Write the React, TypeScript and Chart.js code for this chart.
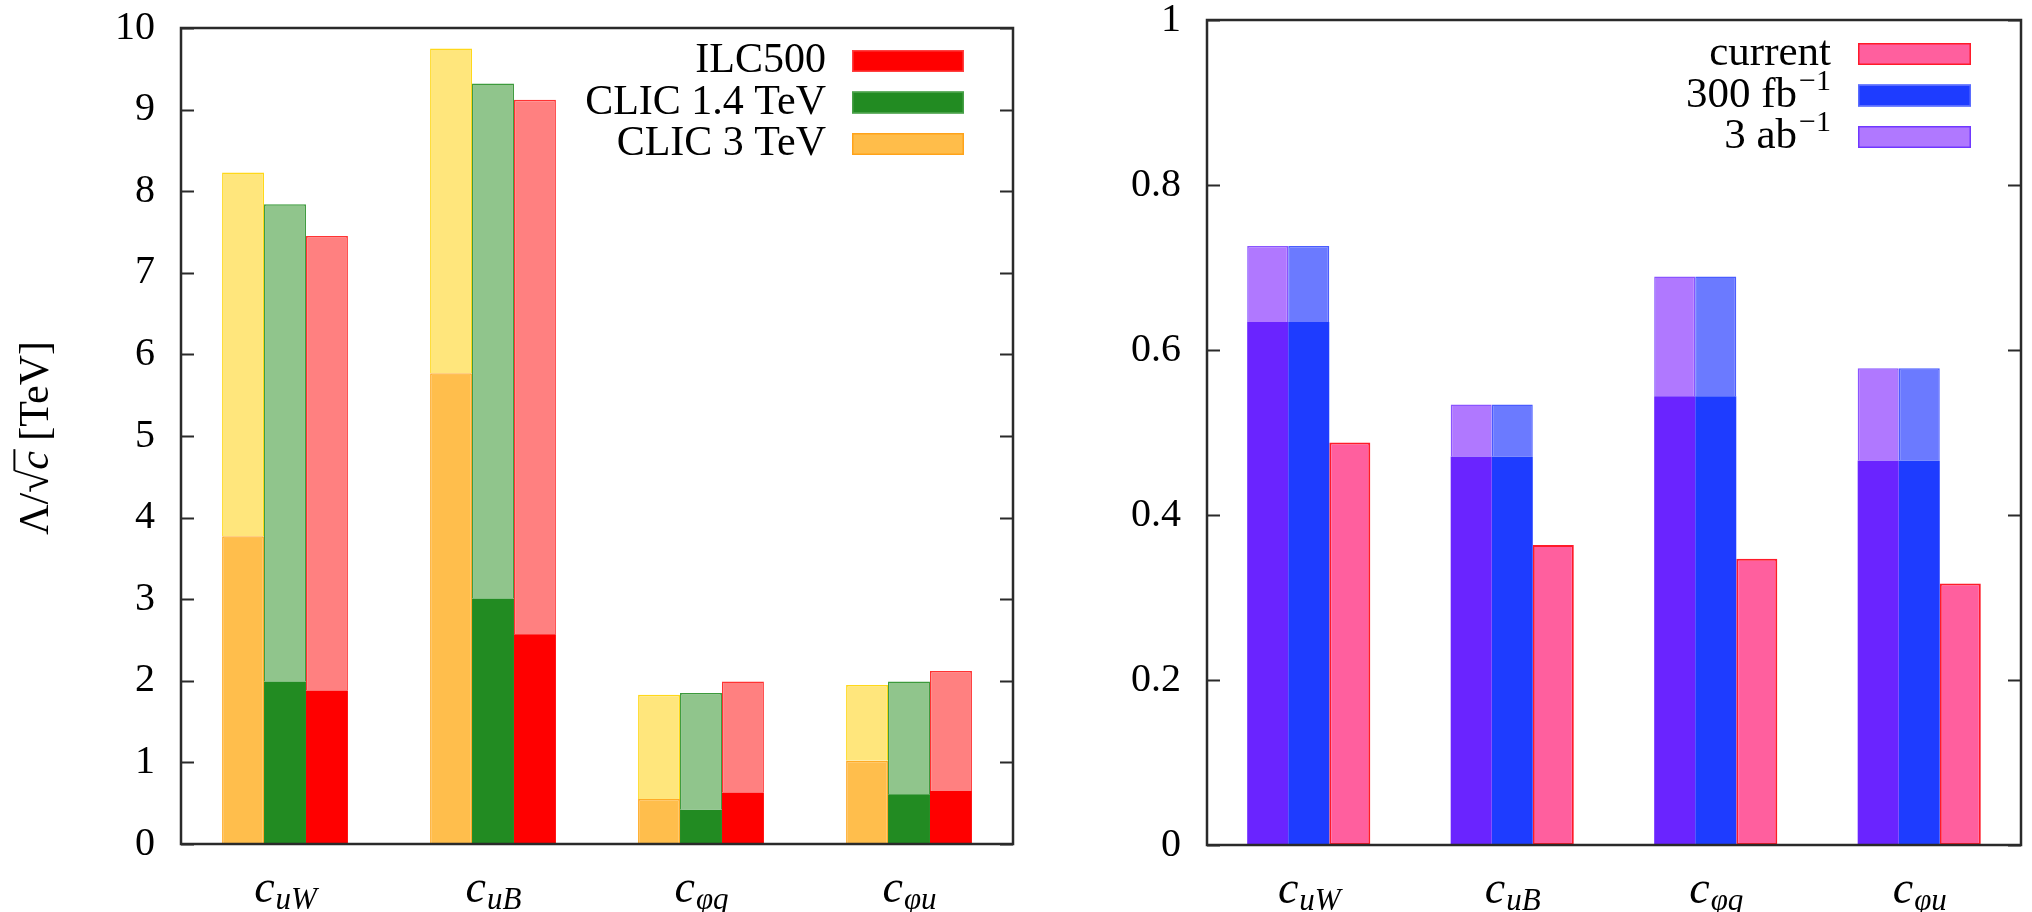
import React, { useEffect, useRef } from 'react';
import { Chart, registerables } from 'chart.js';

Chart.register(...registerables);

const SERIF = '"Liberation Serif", "Times New Roman", "DejaVu Serif", serif';

// Wilson coefficients c_X, one group of bars per coefficient (subscripts)
const couplings = ['uW', 'uB', 'φq', 'φu'];

// Left panel: reach in Λ/√c [TeV]; dark part up to the low value, light part up to the high value
const clic3Low = [3.77, 5.77, 0.55, 1.02];
const clic3High = [8.23, 9.75, 1.83, 1.95];
const clic14Low = [1.99, 3.01, 0.42, 0.61];
const clic14High = [7.84, 9.32, 1.85, 1.99];
const ilcLow = [1.88, 2.57, 0.63, 0.65];
const ilcHigh = [7.45, 9.12, 1.99, 2.12];
const leftLegendLabels = ['ILC500', 'CLIC 1.4 TeV', 'CLIC 3 TeV'];
const leftTickMax = 10;
const leftTickStep = 1;

// Right panel: LHC reach
const ab3Low = [0.634, 0.471, 0.544, 0.466];
const ab3High = [0.726, 0.534, 0.689, 0.578];
const fb300Low = [0.634, 0.471, 0.544, 0.466];
const fb300High = [0.726, 0.534, 0.689, 0.578];
const currentReach = [0.488, 0.3635, 0.347, 0.317];
const rightLegendLabels = ['current', '300 fb', '3 ab'];
const rightLegendSups = ['', '−1', '−1'];
const rightTickMax = 1;
const rightTickStep = 0.2;

const diff = (hi: number[], lo: number[]) => hi.map((h, i) => +(h - lo[i]).toFixed(4));

type LegendItem = { text: string; sup: string; fill: string; stroke: string };

type PanelDeco = {
  legend: LegendItem[];
  legendFont: number;
  textRightFromEdge: number;
  swatchFrom: number;
  swatchTo: number;
  firstRow: number;
  rowStep: number;
  yTitle: boolean;
};

function segment(label: string, stack: string, data: number[], bg: string, border: string, bw: number) {
  return {
    label,
    stack,
    data,
    backgroundColor: bg,
    borderColor: border,
    borderWidth: bw,
    borderSkipped: 'start' as const,
  };
}

function drawYTitle(ctx: CanvasRenderingContext2D) {
  const fs = 42;
  const up = `${fs}px ${SERIF}`;
  const it = `italic ${fs}px ${SERIF}`;
  const pieces: { t: string; f: string; bar?: boolean }[] = [
    { t: 'Λ/', f: up },
    { t: '√', f: up },
    { t: 'c', f: it, bar: true },
    { t: ' [TeV]', f: up },
  ];
  let total = 0;
  const widths = pieces.map((p) => {
    ctx.font = p.f;
    const w = ctx.measureText(p.t).width;
    total += w;
    return w;
  });
  ctx.save();
  ctx.translate(48, 438);
  ctx.rotate(-Math.PI / 2);
  ctx.fillStyle = '#000';
  ctx.strokeStyle = '#000';
  ctx.textBaseline = 'alphabetic';
  ctx.textAlign = 'left';
  let x = -total / 2;
  pieces.forEach((p, i) => {
    ctx.font = p.f;
    ctx.fillText(p.t, x, 0);
    if (p.bar) {
      ctx.lineWidth = 2;
      ctx.beginPath();
      ctx.moveTo(x - 1, -fs * 0.8);
      ctx.lineTo(x + widths[i] + 2, -fs * 0.8);
      ctx.stroke();
    }
    x += widths[i];
  });
  ctx.restore();
}

function decoPlugin(deco: PanelDeco) {
  return {
    id: 'panelDeco',
    afterDraw(chart: any) {
      const { ctx, chartArea: a, scales } = chart;
      const ys = scales.y;
      const xs = scales.x;
      ctx.save();

      // tick marks pointing inwards on both vertical sides
      ctx.strokeStyle = '#2a2a2a';
      ctx.lineWidth = 2;
      ys.ticks.forEach((t: any) => {
        const py = Math.round(ys.getPixelForValue(t.value)) + 0.5;
        ctx.beginPath();
        ctx.moveTo(a.left, py);
        ctx.lineTo(a.left + 13, py);
        ctx.moveTo(a.right - 13, py);
        ctx.lineTo(a.right, py);
        ctx.stroke();
      });

      // frame
      ctx.lineWidth = 2.5;
      ctx.strokeRect(a.left, a.top, a.right - a.left, a.bottom - a.top);

      // category labels c_{sub}
      ctx.fillStyle = '#000';
      ctx.textBaseline = 'alphabetic';
      ctx.textAlign = 'left';
      const mainFont = `italic 46px ${SERIF}`;
      const subFont = `italic 31px ${SERIF}`;
      couplings.forEach((sub, i) => {
        const cx = xs.getPixelForValue(i);
        ctx.font = mainFont;
        const wc = ctx.measureText('c').width;
        ctx.font = subFont;
        const ws = ctx.measureText(sub).width;
        const x0 = cx - (wc + ws) / 2;
        ctx.font = mainFont;
        ctx.fillText('c', x0, a.bottom + 58);
        ctx.font = subFont;
        ctx.fillText(sub, x0 + wc + 1, a.bottom + 65);
      });

      // legend: right-aligned text followed by a colour swatch
      deco.legend.forEach((item, i) => {
        const cy = a.top + deco.firstRow + i * deco.rowStep;
        const textRight = a.right - deco.textRightFromEdge;
        const mf = `${deco.legendFont}px ${SERIF}`;
        const sf = `${Math.round(deco.legendFont * 0.7)}px ${SERIF}`;
        ctx.font = mf;
        const wm = ctx.measureText(item.text).width;
        ctx.font = sf;
        const wsup = item.sup ? ctx.measureText(item.sup).width + 2 : 0;
        const xStart = textRight - wm - wsup;
        ctx.fillStyle = '#000';
        ctx.font = mf;
        ctx.fillText(item.text, xStart, cy + 11);
        if (item.sup) {
          ctx.font = sf;
          ctx.fillText(item.sup, xStart + wm + 2, cy - 6);
        }
        const sx = a.right - deco.swatchFrom;
        const sw = deco.swatchFrom - deco.swatchTo;
        ctx.fillStyle = item.fill;
        ctx.fillRect(sx, cy - 11, sw, 22);
        ctx.strokeStyle = item.stroke;
        ctx.lineWidth = 1.5;
        ctx.strokeRect(sx + 0.75, cy - 10.25, sw - 1.5, 20.5);
      });

      if (deco.yTitle) drawYTitle(ctx);
      ctx.restore();
    },
  };
}

function makeConfig(
  datasets: any[],
  max: number,
  step: number,
  axisWidth: number,
  axisHeight: number,
  pad: { top: number; right: number },
  deco: PanelDeco
): any {
  return {
    type: 'bar',
    data: { labels: couplings, datasets },
    options: {
      responsive: false,
      animation: false,
      devicePixelRatio: 1,
      layout: { padding: { left: 0, top: pad.top, right: pad.right, bottom: 0 } },
      datasets: { bar: { categoryPercentage: 0.605, barPercentage: 1 } },
      plugins: { legend: { display: false }, tooltip: { enabled: false } },
      scales: {
        x: {
          stacked: true,
          grid: { display: false, drawTicks: false },
          border: { display: false },
          ticks: { display: false },
          afterFit: (s: any) => {
            s.height = axisHeight;
          },
        },
        y: {
          stacked: true,
          min: 0,
          max,
          grid: { display: false, drawTicks: false },
          border: { display: false },
          ticks: {
            stepSize: step,
            padding: 26,
            color: '#000',
            font: { family: SERIF, size: 40, lineHeight: 1 },
            callback: (v: any) => String(parseFloat(Number(v).toFixed(3))),
          },
          afterFit: (s: any) => {
            s.width = axisWidth;
            s.paddingTop = 0;
            s.paddingBottom = 0;
          },
        },
      },
    },
    plugins: [decoPlugin(deco)],
  };
}

function leftConfig() {
  const datasets = [
    segment('CLIC 3 TeV', 'clic3', clic3Low, '#ffbe4c', '#ffab26', 1.5),
    segment('CLIC 3 TeV (upper)', 'clic3', diff(clic3High, clic3Low), '#ffe67c', '#ffd81a', 1.5),
    segment('CLIC 1.4 TeV', 'clic14', clic14Low, '#228b22', '#228b22', 0),
    segment('CLIC 1.4 TeV (upper)', 'clic14', diff(clic14High, clic14Low), '#90c58c', '#3c9a3c', 1.5),
    segment('ILC500', 'ilc', ilcLow, '#ff0000', '#ff0000', 0),
    segment('ILC500 (upper)', 'ilc', diff(ilcHigh, ilcLow), '#ff8080', '#ff3333', 1.5),
  ];
  const legend: LegendItem[] = [
    { text: leftLegendLabels[0], sup: '', fill: '#ff0000', stroke: '#ff4040' },
    { text: leftLegendLabels[1], sup: '', fill: '#228b22', stroke: '#47a047' },
    { text: leftLegendLabels[2], sup: '', fill: '#ffbd4a', stroke: '#ffa31a' },
  ];
  return makeConfig(datasets, leftTickMax, leftTickStep, 181, 68, { top: 28, right: 17 }, {
    legend,
    legendFont: 42,
    textRightFromEdge: 187,
    swatchFrom: 161,
    swatchTo: 49,
    firstRow: 33,
    rowStep: 41.5,
    yTitle: true,
  });
}

function rightConfig() {
  const datasets = [
    segment('3 ab-1', 'ab3', ab3Low, '#6a24ff', '#6a24ff', 0),
    segment('3 ab-1 (upper)', 'ab3', diff(ab3High, ab3Low), '#b078ff', '#8a55ff', 1.5),
    segment('300 fb-1', 'fb300', fb300Low, '#1e3cff', '#1e3cff', 0),
    segment('300 fb-1 (upper)', 'fb300', diff(fb300High, fb300Low), '#6b7aff', '#4a5cff', 1.5),
    { ...segment('current', 'cur', currentReach, '#ff5f9e', '#ff1a2a', 2), borderSkipped: false },
  ];
  const legend: LegendItem[] = [
    { text: rightLegendLabels[0], sup: rightLegendSups[0], fill: '#ff5f9e', stroke: '#ff1a2a' },
    { text: rightLegendLabels[1], sup: rightLegendSups[1], fill: '#1e3cff', stroke: '#5a6cff' },
    { text: rightLegendLabels[2], sup: rightLegendSups[2], fill: '#b078ff', stroke: '#7038ff' },
  ];
  return makeConfig(datasets, rightTickMax, rightTickStep, 177, 67, { top: 20, right: 11 }, {
    legend,
    legendFont: 43,
    textRightFromEdge: 190,
    swatchFrom: 163,
    swatchTo: 50,
    firstRow: 34,
    rowStep: 41.5,
    yTitle: false,
  });
}

function Panel({ build, left, width }: { build: () => any; left: number; width: number }) {
  const ref = useRef<HTMLCanvasElement>(null);
  useEffect(() => {
    const chart = new Chart(ref.current as HTMLCanvasElement, build());
    return () => chart.destroy();
  }, [build]);
  return (
    <canvas
      ref={ref}
      width={width}
      height={912}
      style={{ position: 'absolute', left, top: 0, width, height: 912 }}
    />
  );
}

export default function App() {
  return (
    <div style={{ position: 'absolute', left: 0, top: 0, width: 2032, height: 912, background: '#fff' }}>
      <Panel build={leftConfig} left={0} width={1030} />
      <Panel build={rightConfig} left={1030} width={1002} />
    </div>
  );
}
